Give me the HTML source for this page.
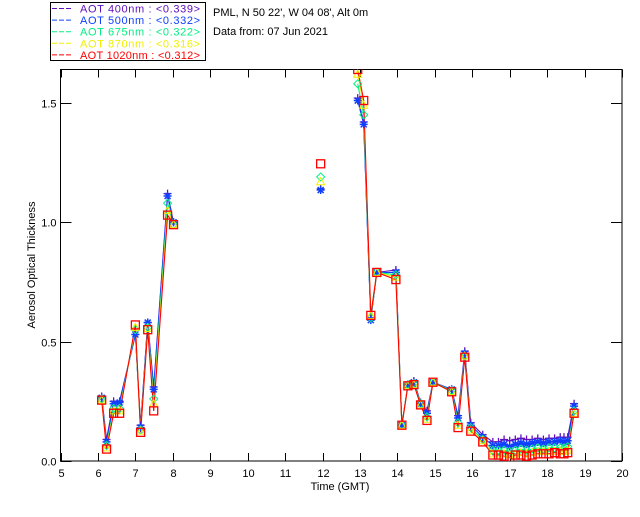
<!DOCTYPE html>
<html><head><meta charset="utf-8"><style>
body{margin:0;background:#fff;}
svg text{font-family:"Liberation Sans",sans-serif;font-size:11px;}
</style></head><body>
<svg id="chart" width="640" height="512" xmlns="http://www.w3.org/2000/svg">
<rect width="640" height="512" fill="#fff"/>
<g id="legend">
<rect x="50.5" y="2.5" width="155" height="58" fill="#fff" stroke="#000"/>
</g>
<text x="213" y="16" fill="#000">PML, N 50 22', W 04 08', Alt 0m</text>
<text x="213" y="35" fill="#000">Data from: 07 Jun 2021</text>
<g id="axes"></g>
<g id="plot"></g>
<text x="340" y="490" text-anchor="middle" fill="#000">Time (GMT)</text>
<text transform="translate(35,265) rotate(-90)" text-anchor="middle" fill="#000">Aerosol Optical Thickness</text>
</svg>
<script>
const times=[6.10,6.23,6.42,6.58,7.00,7.14,7.33,7.49,7.86,8.02,11.95,12.94,13.10,13.29,13.45,13.96,14.12,14.28,14.44,14.62,14.79,14.95,15.45,15.62,15.80,15.96,16.28,16.55,16.70,16.85,17.00,17.15,17.30,17.45,17.60,17.75,17.90,18.05,18.20,18.35,18.45,18.55,18.72];
const aot400=[0.27,0.09,0.25,0.25,0.53,0.15,0.58,0.31,1.12,1.00,1.14,1.52,1.42,0.60,0.79,0.80,0.15,0.32,0.335,0.245,0.21,0.33,0.30,0.19,0.46,0.16,0.11,0.08,0.08,0.09,0.085,0.09,0.095,0.09,0.09,0.095,0.09,0.095,0.095,0.10,0.10,0.10,0.24];
const aot500=[0.265,0.08,0.24,0.245,0.53,0.14,0.58,0.30,1.11,1.00,1.135,1.51,1.41,0.59,0.79,0.79,0.15,0.32,0.33,0.24,0.20,0.33,0.30,0.18,0.45,0.15,0.10,0.065,0.065,0.07,0.06,0.07,0.075,0.07,0.075,0.08,0.075,0.08,0.08,0.085,0.08,0.085,0.23];
const aot675=[0.26,0.065,0.22,0.22,0.55,0.13,0.56,0.26,1.08,0.99,1.19,1.58,1.45,0.60,0.79,0.78,0.15,0.32,0.325,0.24,0.185,0.33,0.295,0.16,0.44,0.14,0.09,0.045,0.045,0.045,0.04,0.045,0.05,0.045,0.05,0.055,0.05,0.055,0.055,0.055,0.055,0.06,0.21];
const aot870=[0.255,0.055,0.21,0.21,0.56,0.125,0.555,0.24,1.05,0.99,1.17,1.62,1.49,0.61,0.79,0.77,0.15,0.315,0.32,0.235,0.175,0.33,0.29,0.15,0.44,0.13,0.085,0.03,0.03,0.03,0.025,0.03,0.035,0.03,0.035,0.04,0.04,0.04,0.04,0.04,0.04,0.045,0.20];
const aot1020=[0.255,0.05,0.20,0.20,0.57,0.12,0.55,0.21,1.03,0.99,1.245,1.64,1.51,0.61,0.79,0.76,0.15,0.315,0.32,0.235,0.17,0.33,0.29,0.14,0.435,0.125,0.08,0.025,0.025,0.02,0.015,0.025,0.025,0.02,0.025,0.03,0.03,0.03,0.035,0.03,0.03,0.035,0.20];
const seriesNames=["AOT  400nm","AOT  500nm","AOT  675nm","AOT  870nm","AOT 1020nm"];
const seriesMeans=["0.339","0.332","0.322","0.316","0.312"];
const xTicks=[5,6,7,8,9,10,11,12,13,14,15,16,17,18,19,20];
const yTicks=[0.0,0.5,1.0,1.5];

const NS="http://www.w3.org/2000/svg";
const L=60.5,R=622,T=69.5,B=461;
const X=t=>L+(t-5)/15*(R-L);
const Y=v=>B-v/1.64*(B-T);
function mk(tag,attrs,parent){const e=document.createElementNS(NS,tag);for(const k in attrs)e.setAttribute(k,attrs[k]);parent.appendChild(e);return e;}
const axes=document.getElementById('axes'),plot=document.getElementById('plot'),legend=document.getElementById('legend');
const frame=mk('rect',{x:L,y:T,width:R-L,height:B-T,fill:'none',stroke:'#000'},axes);


xTicks.forEach(t=>{
 const x=Math.round(X(t))+0.5;
 mk('line',{x1:x,y1:B,x2:x,y2:B-8,stroke:'#000'},axes);
 mk('line',{x1:x,y1:T,x2:x,y2:T+8,stroke:'#000'},axes);
 const tx=mk('text',{x:x,y:B+16,'text-anchor':'middle',fill:'#000'},axes);
 tx.textContent=t;
 
 
});
yTicks.forEach(v=>{
 const y=Math.round(Y(v))+0.5;
 mk('line',{x1:L,y1:y,x2:L+11,y2:y,stroke:'#000'},axes);
 mk('line',{x1:R,y1:y,x2:R-11,y2:y,stroke:'#000'},axes);
 const tx=mk('text',{x:L-4,y:y+4,'text-anchor':'end',fill:'#000'},axes);
 tx.textContent=v.toFixed(1);
 
 
});
const colors=["#6010c0","#1040ff","#00f080","#f0f000","#ff0000"];
const all=[aot400,aot500,aot675,aot870,aot1020];
const clip=mk('clipPath',{id:'cp'},mk('defs',{},plot));
mk('rect',{x:L,y:T,width:R-L,height:B-T},clip);
const g=mk('g',{'clip-path':'url(#cp)'},plot);
all.forEach((vals,si)=>{
 const c=colors[si];let d="";
 vals.forEach((v,i)=>{const x=X(times[i]),y=Y(v);
  d+=(i===0||times[i]-times[i-1]>0.6?"M":"L")+x.toFixed(1)+","+y.toFixed(1);});
 const p=mk('path',{d:d,fill:'none',stroke:c,'stroke-width':1.1},g);
 
 
});
all.forEach((vals,si)=>{
 const c=colors[si];
 vals.forEach((v,i)=>{const x=X(times[i]),y=Y(v);let m;
  if(si===0)m=mk('path',{d:`M${x-4},${y}H${x+4}M${x},${y-4}V${y+4}`,stroke:c,'stroke-width':1.3,fill:'none'},g);
  else if(si===1)m=mk('path',{d:`M${x-4},${y}H${x+4}M${x},${y-4}V${y+4}M${x-3},${y-3}L${x+3},${y+3}M${x-3},${y+3}L${x+3},${y-3}`,stroke:c,'stroke-width':1.5,fill:'none'},g);
  else if(si===2)m=mk('path',{d:`M${x},${y-4}L${x+4},${y}L${x},${y+4}L${x-4},${y}Z`,stroke:c,fill:'none'},g);
  else if(si===3)m=mk('path',{d:`M${x},${y-4}L${x+4},${y+3}L${x-4},${y+3}Z`,stroke:c,fill:'none'},g);
  else m=mk('rect',{x:x-4,y:y-4,width:8,height:8,stroke:c,fill:'none','stroke-width':1.3},g);
  
  
 });
});
seriesNames.forEach((n,i)=>{
 const y=12.5+i*11.6;
 mk('line',{x1:52,y1:y-4,x2:73,y2:y-4,stroke:colors[i],'stroke-dasharray':'5,2'},legend);
 const tx=mk('text',{x:80,y:y,fill:colors[i],textLength:120,lengthAdjust:'spacing'},legend);
 tx.setAttribute('xml:space','preserve');
 tx.textContent=n+" : <"+seriesMeans[i]+">";
 
 
});
</script>
</body></html>
